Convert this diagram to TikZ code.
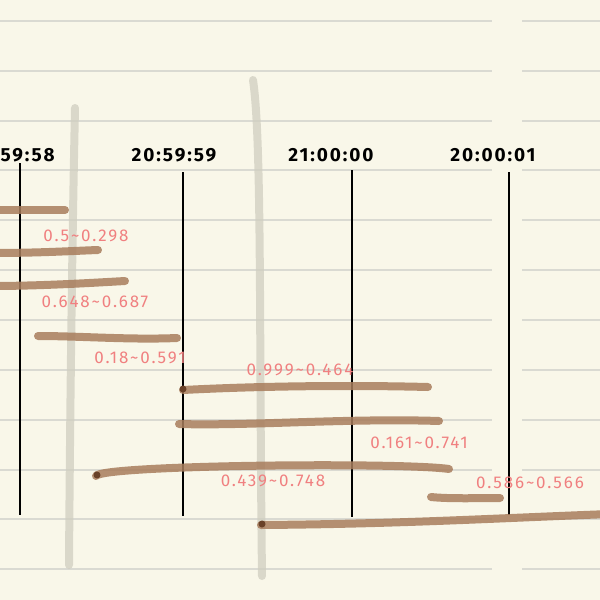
\documentclass[tikz,border=0pt]{standalone}
\usepackage{fontspec}
\setmainfont{Fira Sans}
\newfontfamily\pinkfont[LetterSpace=11]{Fira Sans}
\newfontfamily\timefont[LetterSpace=10]{Fira Sans}
\definecolor{paper}{RGB}{249,247,233}
\definecolor{rulec}{RGB}{218,218,210}
\definecolor{grayst}{RGB}{208,206,192}
\definecolor{brownst}{RGB}{168,125,92}
\definecolor{dotc}{RGB}{105,65,40}
\definecolor{pinkc}{RGB}{240,128,128}
\tikzset{
  rule/.style={draw=rulec, line width=1.4pt},
  gstroke/.style={draw=grayst, line width=8pt, line cap=round, opacity=0.75},
  tick/.style={draw=black, line width=1.8pt},
  bstroke/.style={draw=brownst, line width=8pt, line cap=round, opacity=0.85},
  startdot/.style={fill=dotc, circle, inner sep=0pt, minimum size=7pt},
  tlabel/.style={font=\timefont\bfseries\fontsize{19}{19}\selectfont, text=black, inner sep=0pt},
  plabel/.style={font=\pinkfont\fontsize{17}{17}\selectfont, text=pinkc, inner sep=0pt}
}
\begin{document}
\begin{tikzpicture}[x=1pt,y=-1pt]
\useasboundingbox (0,0) rectangle (600,600);
\clip (0,0) rectangle (600,600);
\fill[paper] (0,0) rectangle (600,600);
% ruled lines
\foreach \y in {21,71,121,170,220,270,320,370,420,470,519,569} {
  \draw[rule] (0,\y) -- (492,\y);
  \draw[rule] (522,\y) -- (600,\y);
}
% gray dividers
\draw[gstroke] (75,108) .. controls (72,250) and (70,420) .. (69,565);
\draw[gstroke] (253,80) .. controls (262,140) and (259,330) .. (262,576);
% time ticks
\coordinate (t1a) at (20,163);  \coordinate (t1b) at (20,515);
\coordinate (t2a) at (183,172); \coordinate (t2b) at (183,516);
\coordinate (t3a) at (352,170); \coordinate (t3b) at (352,517);
\coordinate (t4a) at (509,172); \coordinate (t4b) at (509,515);
\draw[tick] (t1a) -- (t1b);
\draw[tick] (t2a) -- (t2b);
\draw[tick] (t3a) -- (t3b);
\draw[tick] (t4a) -- (t4b);
\node[tlabel] (L1) at (12,155) {20:59:58};
\node[tlabel] (L2) at (174,155) {20:59:59};
\node[tlabel] (L3) at (331,155) {21:00:00};
\node[tlabel] (L4) at (493,155) {20:00:01};
% brown intervals
\coordinate (s1a) at (-10,210); \coordinate (s1b) at (65,210);
\draw[bstroke] (s1a) -- (s1b);
\coordinate (s2a) at (-10,253); \coordinate (s2b) at (98,250);
\draw[bstroke] (s2a) .. controls (40,253) and (70,251) .. (s2b);
\coordinate (s3a) at (-10,286); \coordinate (s3b) at (125,281);
\draw[bstroke] (s3a) .. controls (40,286) and (90,283) .. (s3b);
\coordinate (s4a) at (38,336); \coordinate (s4b) at (177,338);
\draw[bstroke] (s4a) .. controls (80,336) and (130,340) .. (s4b);
\coordinate (s5a) at (183,390); \coordinate (s5b) at (428,387);
\draw[bstroke] (s5a) .. controls (260,386) and (350,385) .. (s5b);
\coordinate (s6a) at (179,424); \coordinate (s6b) at (439,421);
\draw[bstroke] (s6a) .. controls (250,426) and (350,418) .. (s6b);
\coordinate (s7a) at (96,476); \coordinate (s7b) at (449,469);
\draw[bstroke] (s7a) .. controls (100,465) and (400,462) .. (s7b);
\coordinate (s8a) at (431,497); \coordinate (s8b) at (500,498);
\draw[bstroke] (s8a) .. controls (450,499) and (480,498) .. (s8b);
\coordinate (s9a) at (261,525); \coordinate (s9b) at (610,514);
\draw[bstroke] (s9a) .. controls (400,524) and (500,518) .. (s9b);
\node[startdot] (d5) at (183,389) {};
\node[startdot] (d7) at (97,475) {};
\node[startdot] (d9) at (262,524) {};
% labels
\node[plabel] (p1) at (86,236) {0.5\textasciitilde 0.298};
\node[plabel] (p2) at (95,302) {0.648\textasciitilde 0.687};
\node[plabel] (p3) at (140,358) {0.18\textasciitilde 0.591};
\node[plabel] (p4) at (300,370) {0.999\textasciitilde 0.464};
\node[plabel] (p5) at (419,443) {0.161\textasciitilde 0.741};
\node[plabel] (p6) at (273,481) {0.439\textasciitilde 0.748};
\node[plabel] (p7) at (530,483) {0.586\textasciitilde 0.566};
\end{tikzpicture}
\end{document}
